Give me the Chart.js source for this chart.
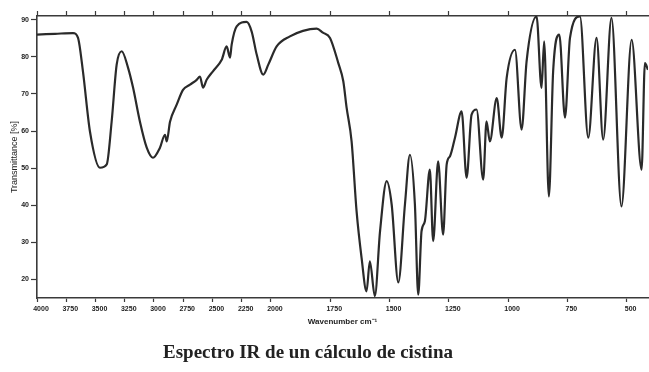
<!DOCTYPE html>
<html>
<head>
<meta charset="utf-8">
<script src="https://cdn.jsdelivr.net/npm/chart.js@4.4.0/dist/chart.umd.min.js"></script>
<style>
  html, body { margin: 0; padding: 0; background: #fff; }
  #wrap { position: relative; width: 649px; height: 372px; overflow: hidden; }
  #caption { position: absolute; left: 0; width: 616px; top: 341px; text-align: center;
    font: bold 19px "Liberation Serif", "DejaVu Serif", serif; color: #222; }
</style>
</head>
<body>
<div id="wrap">
  <canvas id="c" width="649" height="372"></canvas>
  <div id="caption">Espectro IR de un cálculo de cistina</div>
</div>
<script>
const wavenumbers = [4000, 3846, 3692, 3650, 3607, 3547, 3462, 3404, 3362, 3319,
  3276, 3222, 3179, 3120, 3062, 3009, 2949, 2906, 2891, 2863,
  2806, 2752, 2692, 2635, 2607, 2581, 2550, 2496, 2421, 2379,
  2350, 2336, 2293, 2208, 2165, 2122, 2066, 2023, 1976, 1920,
  1865, 1807, 1781, 1751, 1716, 1695, 1681, 1660, 1639, 1618,
  1597, 1583, 1562, 1540, 1512, 1491, 1463, 1435, 1414, 1393,
  1379, 1365, 1351, 1330, 1316, 1295, 1274, 1259, 1245, 1224,
  1196, 1175, 1154, 1133, 1105, 1091, 1077, 1048, 1027, 1006,
  971, 943, 922, 880, 859, 848, 828, 810, 784, 760,
  739, 697, 662, 627, 599, 564, 522, 479, 437, 423,
  410];
const transmittance = [86.0, 86.2, 86.4, 85.2, 76.0, 59.8, 50.1, 51.0, 62.5, 77.9,
  81.5, 77.1, 71.7, 62.5, 55.5, 52.8, 55.5, 59.0, 57.2, 62.5,
  67.1, 71.1, 72.5, 73.8, 74.7, 71.7, 73.8, 76.1, 79.2, 82.8,
  79.8, 83.3, 88.2, 89.4, 86.8, 80.6, 75.2, 77.9, 82.8, 85.5,
  87.0, 87.6, 86.5, 85.1, 78.3, 73.4, 66.3, 57.2, 38.4, 25.9,
  16.8, 24.9, 15.5, 33.0, 46.5, 40.2, 19.2, 40.2, 53.6, 40.2,
  15.9, 33.0, 35.7, 49.6, 30.3, 51.8, 32.1, 51.0, 53.2, 58.2,
  65.3, 47.4, 64.4, 65.8, 46.9, 62.6, 57.2, 68.9, 58.2, 74.3,
  81.9, 60.4, 78.8, 90.9, 71.6, 84.2, 42.4, 76.1, 86.0, 63.6,
  85.1, 90.9, 58.2, 85.1, 57.7, 90.5, 39.7, 84.6, 49.6, 78.3,
  76.5];
const xTickLabels = [4000, 3750, 3500, 3250, 3000, 2750, 2500, 2250, 2000, 1750, 1500, 1250, 1000, 750, 500];
const yTickLabels = [90, 80, 70, 60, 50, 40, 30, 20];
const xTitle = 'Wavenumber cm\u207B\u00B9';
const yTitle = 'Transmittance [%]';

// IR spectra use a compressed scale above 2000 cm-1: map wavenumber to axis units
const BREAK = 2000, FACTOR = 2.027;
function toAxis(wn) {
  return wn >= BREAK ? (4000 - wn) / 250 : 8 + (BREAK - wn) / 250 * FACTOR;
}
const X_MIN = toAxis(4000), X_MAX = toAxis(410);

const points = wavenumbers.map((w, i) => ({ x: toAxis(w), y: transmittance[i] }));
const labelFor = v => {
  const w = xTickLabels.find(t => Math.abs(toAxis(t) - v) < 1e-6);
  return w === undefined ? '' : String(w);
};
const xTicks = scale => { scale.ticks = xTickLabels.map(w => ({ value: toAxis(w) })); };

const axisColor = '#3a3a3a';
const tickFont = { family: 'Liberation Sans', size: 7, weight: 'bold' };

new Chart(document.getElementById('c'), {
  type: 'line',
  data: {
    datasets: [{
      data: points,
      borderColor: '#2a2a2a',
      borderWidth: 2.2,
      pointRadius: 0,
      fill: false,
      cubicInterpolationMode: 'monotone'
    }]
  },
  options: {
    responsive: false,
    animation: false,
    devicePixelRatio: 1,
    layout: { padding: { left: 0, right: 1, top: 0, bottom: 45.8 } },
    plugins: { legend: { display: false }, tooltip: { enabled: false } },
    scales: {
      x: {
        type: 'linear', position: 'bottom', min: X_MIN, max: X_MAX,
        afterBuildTicks: xTicks,
        afterFit: s => { s.height = 28.2; },
        grid: { drawOnChartArea: false, drawTicks: true, tickLength: 4, color: axisColor, tickWidth: 1.2 },
        border: { color: axisColor, width: 1.6 },
        ticks: { callback: v => labelFor(v), autoSkip: false, maxRotation: 0, padding: 3, labelOffset: 4,
                 font: tickFont, color: '#222' },
        title: { display: true, text: xTitle, color: '#222', padding: { top: 0, bottom: 0 },
                 font: { family: 'Liberation Sans', size: 8, weight: 'bold' } }
      },
      x2: {
        type: 'linear', position: 'top', min: X_MIN, max: X_MAX,
        afterBuildTicks: xTicks,
        afterFit: s => { s.height = 16; },
        grid: { drawOnChartArea: false, drawTicks: true, tickLength: 5, color: axisColor, tickWidth: 1.2 },
        border: { color: axisColor, width: 1.6 },
        ticks: { display: false }
      },
      y: {
        type: 'linear', position: 'left', min: 15, max: 91,
        afterBuildTicks: s => { s.ticks = yTickLabels.map(v => ({ value: v })); },
        afterFit: s => { s.width = 37; },
        grid: { drawOnChartArea: false, drawTicks: true, tickLength: 6, color: axisColor, tickWidth: 1.2 },
        border: { color: axisColor, width: 1.6 },
        ticks: { padding: 2, font: tickFont, color: '#222' },
        title: { display: true, text: yTitle, color: '#222', padding: { top: 9.6, bottom: 0 },
                 font: { family: 'Liberation Sans', size: 9 } }
      }
    }
  }
});
</script>
</body>
</html>
